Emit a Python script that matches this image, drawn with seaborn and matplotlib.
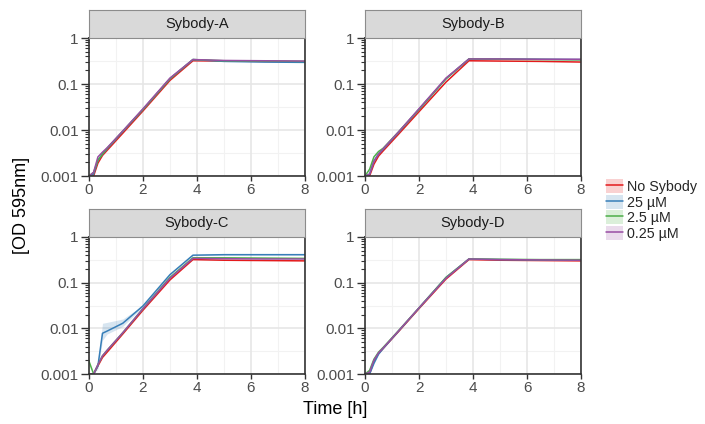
import numpy as np
import pandas as pd
import matplotlib
matplotlib.use("Agg")
import matplotlib.pyplot as plt
import seaborn as sns
from matplotlib.ticker import LogLocator, NullFormatter, FixedLocator
from matplotlib.lines import Line2D
from matplotlib.patches import Patch
from matplotlib.legend_handler import HandlerTuple

# ---------------- data ----------------
panels = ["Sybody-A", "Sybody-B", "Sybody-C", "Sybody-D"]
series = ["No Sybody", "25 µM", "2.5 µM", "0.25 µM"]
time_h = [0, 0.17, 0.33, 0.5, 0.67, 1.25, 2, 3, 3.85, 5, 6.5, 8]

a_none = [0.001, 0.001, 0.0019, 0.0028, 0.0036, 0.0085, 0.026, 0.12, 0.32, 0.315, 0.31, 0.305]
a_25 = [0.001, 0.0011, 0.0022, 0.0030, 0.0039, 0.0093, 0.028, 0.13, 0.34, 0.31, 0.30, 0.295]
a_2_5 = [0.001, 0.0012, 0.0022, 0.0030, 0.0040, 0.0094, 0.028, 0.13, 0.34, 0.32, 0.315, 0.31]
a_0_25 = [0.001, 0.0012, 0.0026, 0.0033, 0.0041, 0.0095, 0.029, 0.135, 0.34, 0.325, 0.32, 0.315]

b_none = [0.001, 0.001, 0.0018, 0.0027, 0.0035, 0.0082, 0.025, 0.11, 0.32, 0.315, 0.31, 0.30]
b_25 = [0.001, 0.0011, 0.0021, 0.0030, 0.0038, 0.0090, 0.028, 0.13, 0.35, 0.35, 0.345, 0.34]
b_2_5 = [0.001, 0.0014, 0.0026, 0.0034, 0.0040, 0.0092, 0.028, 0.13, 0.35, 0.345, 0.34, 0.335]
b_0_25 = [0.001, 0.0011, 0.0021, 0.0030, 0.0039, 0.0092, 0.029, 0.135, 0.35, 0.35, 0.345, 0.345]

c_none = [0.001, 0.001, 0.0015, 0.0023, 0.0030, 0.0075, 0.025, 0.115, 0.32, 0.31, 0.305, 0.30]
c_25 = [0.001, 0.001, 0.0015, 0.0078, 0.0087, 0.0129, 0.031, 0.15, 0.40, 0.41, 0.41, 0.41]
c_2_5 = [0.0019, 0.001, 0.0016, 0.0025, 0.0033, 0.0080, 0.027, 0.13, 0.35, 0.35, 0.345, 0.34]
c_0_25 = [0.001, 0.001, 0.0016, 0.0025, 0.0033, 0.0080, 0.027, 0.125, 0.34, 0.335, 0.33, 0.33]
c_25_low = [0.001, 0.001, 0.0013, 0.0055, 0.0075, 0.0110, 0.030, 0.145, 0.39, 0.40, 0.40, 0.40]
c_25_high = [0.001, 0.001, 0.0018, 0.0129, 0.0135, 0.0160, 0.032, 0.155, 0.41, 0.42, 0.42, 0.42]

d_none = [0.001, 0.001, 0.0019, 0.0028, 0.0036, 0.0086, 0.027, 0.12, 0.32, 0.31, 0.305, 0.30]
d_25 = [0.001, 0.001, 0.0017, 0.0027, 0.0036, 0.0088, 0.028, 0.13, 0.33, 0.32, 0.315, 0.31]
d_2_5 = [0.001, 0.0012, 0.0021, 0.0030, 0.0038, 0.0090, 0.028, 0.13, 0.33, 0.325, 0.32, 0.32]
d_0_25 = [0.001, 0.0011, 0.0020, 0.0029, 0.0037, 0.0089, 0.028, 0.125, 0.33, 0.32, 0.315, 0.31]

y_ticks = [0.001, 0.01, 0.1, 1]
y_tick_labels = ["0.001", "0.01", "0.1", "1"]
x_ticks = [0, 2, 4, 6, 8]

panel_data = {
    "Sybody-A": [a_none, a_25, a_2_5, a_0_25],
    "Sybody-B": [b_none, b_25, b_2_5, b_0_25],
    "Sybody-C": [c_none, c_25, c_2_5, c_0_25],
    "Sybody-D": [d_none, d_25, d_2_5, d_0_25],
}

rows = []
for p in panels:
    for s, vals in zip(series, panel_data[p]):
        for t, v in zip(time_h, vals):
            rows.append({"panel": p, "series": s, "time": t, "od": v})
df = pd.DataFrame(rows)

colors = {"No Sybody": "#E41A1C", "25 µM": "#377EB8", "2.5 µM": "#4DAF4A", "0.25 µM": "#984EA3"}

# ---------------- figure ----------------
sns.set_theme(style="white")
plt.rcParams["font.family"] = ["Liberation Sans", "DejaVu Sans"]

W, H = 705, 424
fig = plt.figure(figsize=(W / 100, H / 100), dpi=100)

# pixel boxes: (left, top, right, bottom) of plotting areas
boxes = {
    "Sybody-A": (89, 38, 305, 176),
    "Sybody-B": (365, 38, 581, 176),
    "Sybody-C": (89, 237, 305, 374),
    "Sybody-D": (365, 237, 581, 374),
}
strip_h = 28

for p in panels:
    l, t, r, b = boxes[p]
    ax = fig.add_axes([l / W, 1 - b / H, (r - l) / W, (b - t) / H])
    ax.set_facecolor("white")
    ax.set_yscale("log")
    ax.set_xlim(0, 8)
    ax.set_ylim(0.001, 1)

    # grid lines (major and ggplot-style minor)
    for xv in [1, 3, 5, 7]:
        ax.axvline(xv, color="#f2f2f2", lw=0.8, zorder=0)
    for yv in [10 ** -2.5, 10 ** -1.5, 10 ** -0.5]:
        ax.axhline(yv, color="#f2f2f2", lw=0.8, zorder=0)
    for xv in x_ticks:
        ax.axvline(xv, color="#e6e6e6", lw=1.2, zorder=0)
    for yv in y_ticks:
        ax.axhline(yv, color="#e6e6e6", lw=1.2, zorder=0)

    if p == "Sybody-C":
        ax.fill_between(time_h, c_25_low, c_25_high, color=colors["25 µM"], alpha=0.2, lw=0, zorder=1)

    sub = df[df["panel"] == p]
    sns.lineplot(data=sub, x="time", y="od", hue="series", hue_order=series,
                 palette=colors, ax=ax, legend=False, lw=1.1, zorder=2,
                 estimator=None, sort=False)

    ax.set_xlabel("")
    ax.set_ylabel("")
    ax.set_xticks(x_ticks)
    ax.set_xticklabels([str(v) for v in x_ticks])
    ax.yaxis.set_major_locator(FixedLocator(y_ticks))
    ax.set_yticklabels(y_tick_labels)
    ax.yaxis.set_minor_locator(LogLocator(base=10, subs=[2, 3, 4, 5, 6, 7, 8, 9]))
    ax.yaxis.set_minor_formatter(NullFormatter())
    ax.tick_params(axis="y", which="major", direction="out", length=5.5, width=1.0,
                   color="#333333", labelsize=11, labelcolor="#4d4d4d", pad=2, left=True)
    ax.tick_params(axis="y", which="minor", direction="out", length=3.0, width=0.8,
                   color="#333333", left=True)
    ax.tick_params(axis="x", which="major", direction="out", length=3.5, width=1.0,
                   color="#333333", labelsize=11, labelcolor="#4d4d4d", pad=1.5, bottom=True)
    for sp in ax.spines.values():
        sp.set_visible(True)
        sp.set_color("#333333")
        sp.set_linewidth(1.2)

    # facet strip
    sax = fig.add_axes([l / W, 1 - t / H, (r - l) / W, strip_h / H])
    sax.set_facecolor("#d9d9d9")
    sax.set_xticks([])
    sax.set_yticks([])
    for sp in sax.spines.values():
        sp.set_visible(True)
        sp.set_color("#8c8c8c")
        sp.set_linewidth(0.8)
    sax.text(0.5, 0.5, p, ha="center", va="center", fontsize=10.5, color="#1a1a1a",
             transform=sax.transAxes)

# axis titles
fig.text(335 / W, 1 - 409 / H, "Time [h]", ha="center", va="center", fontsize=13, color="black")
fig.text(22 / W, 1 - 205 / H, "[OD 595nm]", ha="center", va="center", rotation=90,
         fontsize=13, color="black")

# legend
handles = []
for s in series:
    handles.append((Patch(facecolor=colors[s], alpha=0.2, edgecolor="none"),
                    Line2D([0], [0], color=colors[s], lw=1.1)))
leg = fig.legend(handles, series, loc="center left", bbox_to_anchor=(603 / W, 1 - 210 / H),
                 frameon=False, fontsize=10.3, handlelength=1.2, handleheight=1.1,
                 handletextpad=0.3, labelspacing=0.05, borderaxespad=0, borderpad=0.2,
                 handler_map={tuple: HandlerTuple(ndivide=1, pad=0)})

fig.savefig("out.png", dpi=100)
